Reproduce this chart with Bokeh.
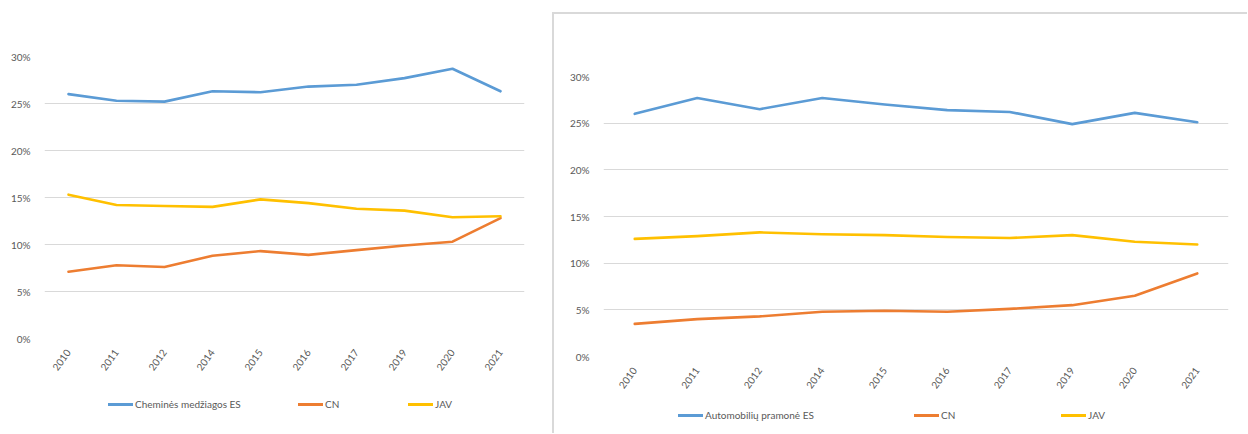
from bokeh.plotting import figure
from bokeh.models import FactorRange, Range1d, FixedTicker, PrintfTickFormatter, Div
from bokeh.layouts import row, column
from bokeh.embed import file_html
from bokeh.resources import INLINE

# ---- data ----
years = ["2010", "2011", "2012", "2014", "2015", "2016", "2017", "2019", "2020", "2021"]

chem_labels = ["Cheminės medžiagos ES", "CN", "JAV"]
chem_es = [26.0, 25.3, 25.2, 26.3, 26.2, 26.8, 27.0, 27.7, 28.7, 26.3]
chem_cn = [7.1, 7.8, 7.6, 8.8, 9.3, 8.9, 9.4, 9.9, 10.3, 12.8]
chem_jav = [15.3, 14.2, 14.1, 14.0, 14.8, 14.4, 13.8, 13.6, 12.9, 13.0]

auto_labels = ["Automobilių pramonė ES", "CN", "JAV"]
auto_es = [26.0, 27.7, 26.5, 27.7, 27.0, 26.4, 26.2, 24.9, 26.1, 25.1]
auto_cn = [3.5, 4.0, 4.3, 4.8, 4.9, 4.8, 5.1, 5.5, 6.5, 8.9]
auto_jav = [12.6, 12.9, 13.3, 13.1, 13.0, 12.8, 12.7, 13.0, 12.3, 12.0]

y_ticks = [0, 5, 10, 15, 20, 25, 30]

COLORS = ["#5B9BD5", "#ED7D31", "#FFC000"]
FONT = "Lato"
TXT = "#595959"
FRAME = "#d9d9d9"


def make_chart(width, height, borders, series):
    left, right, top, bottom = borders
    p = figure(
        x_range=FactorRange(factors=years),
        y_range=Range1d(0, 30),
        width=width, height=height,
        output_backend="svg", toolbar_location=None,
        min_border_left=left, min_border_right=right,
        min_border_top=top, min_border_bottom=bottom,
    )
    p.frame_align = False
    p.margin = 0
    p.outline_line_color = None
    p.background_fill_color = "white"
    p.border_fill_color = "white"
    p.xgrid.grid_line_color = None
    p.ygrid.grid_line_color = FRAME
    p.ygrid.grid_line_width = 1

    p.yaxis.ticker = FixedTicker(ticks=y_ticks)
    p.yaxis.formatter = PrintfTickFormatter(format="%d%%")
    for ax in (p.xaxis, p.yaxis):
        ax.axis_line_color = None
        ax.major_tick_line_color = None
        ax.minor_tick_line_color = None
        ax.major_label_text_font = FONT
        ax.major_label_text_font_size = "10px"
        ax.major_label_text_color = TXT
    p.yaxis.major_label_standoff = 8
    p.xaxis.major_label_standoff = 6
    p.xaxis.major_label_orientation = 0.95

    for vals, color in zip(series, COLORS):
        p.line(years, vals, line_color=color, line_width=2.6, line_cap="round", line_join="round")
    return p


def make_legend(width, height, labels, xs, top):
    parts = []
    for label, color, x in zip(labels, COLORS, xs):
        parts.append(
            f'<div style="position:absolute;left:{x}px;top:{top}px;display:flex;align-items:center;'
            f'white-space:nowrap;line-height:12px;">'
            f'<span style="display:inline-block;width:25px;height:3px;background:{color};margin-right:2px;"></span>'
            f'<span>{label}</span></div>'
        )
    html = (f'<div style="position:relative;width:{width}px;height:{height}px;font-family:Lato;'
            f'font-size:10px;color:{TXT};">' + "".join(parts) + "</div>")
    return Div(text=html, width=width, height=height, margin=0)


# left chart (Cheminės medžiagos)
p1 = make_chart(552, 378, (44, 28, 56, 40), [chem_es, chem_cn, chem_jav])
d1 = make_legend(552, 55, chem_labels, [108, 298, 408], 20)
left_col = column(p1, d1, spacing=0)
left_col.margin = 0

# right chart (Automobilių pramonė)
p2 = make_chart(693, 382, (49, 19, 62, 40), [auto_es, auto_cn, auto_jav])
d2 = make_legend(693, 37, auto_labels, [124, 360, 507], 13)
right_col = column(p2, d2, spacing=0)
right_col.margin = (12, 0, 0, 0)
right_col.styles = {"border-left": f"2px solid {FRAME}", "border-top": f"2px solid {FRAME}"}

layout = row(left_col, right_col, spacing=0)
layout.styles = {"background-color": "white"}

open("out.html", "w").write(file_html(layout, INLINE))
